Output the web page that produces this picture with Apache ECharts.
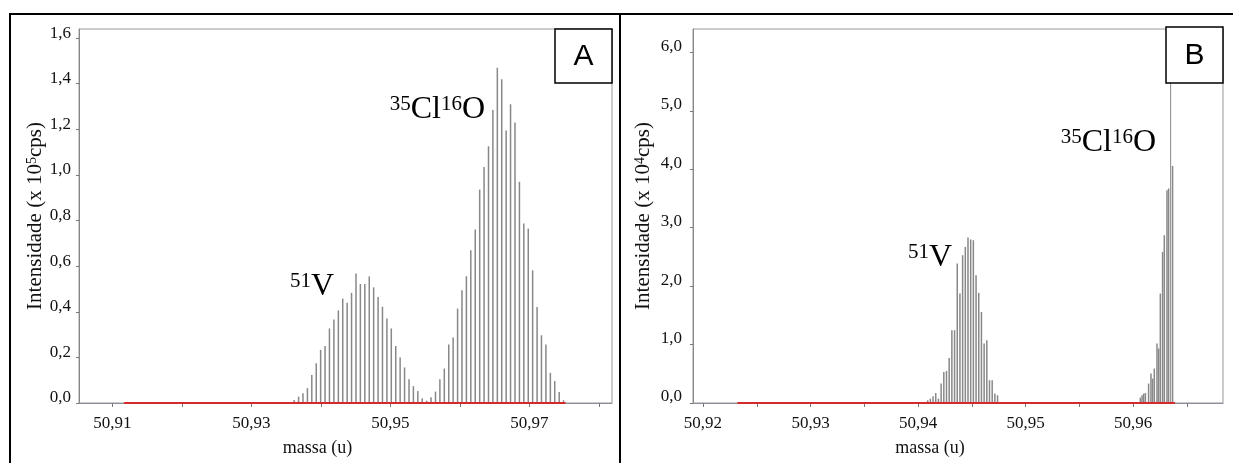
<!DOCTYPE html>
<html><head><meta charset="utf-8">
<script src="https://cdn.jsdelivr.net/npm/echarts@6/dist/echarts.min.js"></script>
<style>html,body{margin:0;padding:0;background:#fff}#c{width:1233px;height:463px}</style>
</head><body><div id="c"></div>
<script>
// ---- Panel A data (mass in u, intensity in 10^5 cps) ----
const massA = [50.93616,50.93680,50.93743,50.93807,50.93870,50.93934,50.93997,50.94061,50.94124,50.94188,
  50.94252,50.94315,50.94379,50.94442,50.94506,50.94569,50.94633,50.94697,50.94760,50.94824,
  50.94887,50.94951,50.95014,50.95078,50.95141,50.95205,50.95269,50.95332,50.95396,50.95459,
  50.95523,50.95586,50.95650,50.95713,50.95777,50.95841,50.95904,50.95968,50.96031,50.96095,
  50.96158,50.96222,50.96286,50.96349,50.96413,50.96476,50.96540,50.96603,50.96667,50.96730,
  50.96794,50.96858,50.96921,50.96985,50.97048,50.97112,50.97175,50.97239,50.97303,50.97366,
  50.97430,50.97493];
const intensA = [0.013,0.028,0.043,0.065,0.123,0.174,0.233,0.250,0.327,0.366,
  0.406,0.458,0.440,0.483,0.568,0.522,0.522,0.555,0.507,0.465,
  0.422,0.370,0.327,0.250,0.200,0.156,0.104,0.074,0.053,0.021,
  0.010,0.025,0.050,0.104,0.151,0.257,0.287,0.414,0.494,0.556,
  0.670,0.761,0.936,1.035,1.126,1.285,1.470,1.420,1.195,1.310,
  1.230,0.970,0.787,0.765,0.582,0.421,0.297,0.257,0.132,0.096,
  0.048,0.012];
const baselineA = [50.9117, 50.9752];
const xTicksA = [50.91,50.92,50.93,50.94,50.95,50.96,50.97,50.98];
const xLabelsA = [50.91,50.93,50.95,50.97];
const yTicksA = [0,0.2,0.4,0.6,0.8,1.0,1.2,1.4,1.6];

// ---- Panel B data (mass in u, intensity in 10^4 cps) ----
const massB = [50.94090,50.94115,50.94140,50.94165,50.94190,50.94215,50.94240,50.94265,50.94290,50.94315,
  50.94340,50.94365,50.94390,50.94415,50.94440,50.94465,50.94490,50.94515,50.94540,50.94565,
  50.94590,50.94615,50.94640,50.94665,50.94690,50.94715,50.94740,
  50.96068,50.96084,50.96099,50.96115,50.96145,50.96167,50.96182,50.96198,50.96223,50.96238,
  50.96254,50.96275,50.96291,50.96316,50.96331,50.96368];
const intensB = [0.046,0.075,0.115,0.171,0.075,0.332,0.531,0.548,0.771,1.245,
  1.245,2.387,1.873,2.529,2.671,2.832,2.798,2.786,2.187,1.884,
  1.558,1.017,1.074,0.389,0.389,0.161,0.132,
  0.092,0.132,0.161,0.171,0.332,0.503,0.418,0.589,1.017,0.932,
  1.873,2.586,2.872,3.642,3.671,4.058];
const baselineB = [50.9232, 50.9639];
const markB = 50.9635;
const xTicksB = [50.92,50.925,50.93,50.935,50.94,50.945,50.95,50.955,50.96,50.965];
const xLabelsB = [50.92,50.93,50.94,50.95,50.96];
const yTicksB = [0,1,2,3,4,5,6];

const serif = 'Liberation Serif';
const pair = (xs, ys) => xs.map((x, i) => [x, ys[i]]);
const fmt = d => v => v.toFixed(d).replace('.', ',');

function xAxis(gi, min, max, ticks, labels) {
  return {
    type: 'value', gridIndex: gi, min, max,
    name: 'massa (u)', nameLocation: 'middle', nameGap: 36,
    nameTextStyle: { fontFamily: serif, fontSize: 18, color: '#111', padding: [0, 56, 0, 0] },
    axisLine: { lineStyle: { color: '#8a8f99', width: 1 } },
    axisTick: { customValues: ticks, length: 4, lineStyle: { color: '#777' } },
    axisLabel: { customValues: labels, formatter: fmt(2), fontFamily: serif, fontSize: 17, color: '#111', margin: 12 },
    splitLine: { show: false }
  };
}
function yAxis(gi, max, ticks, exp, gap, margin, lh) {
  return {
    type: 'value', gridIndex: gi, min: 0, max,
    name: 'Intensidade (x 10{sup|' + exp + '}cps)', nameLocation: 'middle', nameGap: gap,
    nameTextStyle: { fontFamily: serif, fontSize: 21, color: '#111',
      rich: { sup: { fontFamily: serif, fontSize: 14, verticalAlign: 'top', lineHeight: 21 } } },
    axisLine: { show: true, lineStyle: { color: '#888', width: 1 } },
    axisTick: { show: true, customValues: ticks, length: 3, lineStyle: { color: '#777' } },
    axisLabel: { customValues: ticks, formatter: fmt(1), fontFamily: serif, fontSize: 17, color: '#111', margin,
      verticalAlign: 'bottom', lineHeight: lh },
    splitLine: { show: false }
  };
}
function annot(x, y, sup1, main1, sup2, main2) {
  return {
    type: 'text', x, y, z: 100,
    style: {
      text: '{s|' + sup1 + '}{b|' + main1 + '}' + (sup2 ? '{s|' + sup2 + '}{b|' + main2 + '}' : ''),
      align: 'right', verticalAlign: 'bottom', fill: '#000',
      rich: {
        b: { fontFamily: serif, fontSize: 32, lineHeight: 32, fill: '#000' },
        s: { fontFamily: serif, fontSize: 21, lineHeight: 21, verticalAlign: 'top', fill: '#000' }
      }
    }
  };
}
function letterBox(x, y, w, h, letter) {
  return [
    { type: 'rect', shape: { x, y, width: w, height: h }, z: 99,
      style: { fill: '#fff', stroke: '#000', lineWidth: 1.5 } },
    { type: 'text', x: x + w / 2, y: y + h / 2 + 1, z: 100,
      style: { text: letter, align: 'center', verticalAlign: 'middle', fontFamily: 'Liberation Sans', fontSize: 30, fill: '#000' } }
  ];
}

const chart = echarts.init(document.getElementById('c'), null, { renderer: 'canvas' });
chart.setOption({
  backgroundColor: '#fff',
  animation: false,
  grid: [
    { left: 79, right: 621, top: 29, bottom: 60, show: true, borderColor: '#999', borderWidth: 1, containLabel: false },
    { left: 693, right: 10, top: 29, bottom: 60, show: true, borderColor: '#999', borderWidth: 1, containLabel: false }
  ],
  xAxis: [
    xAxis(0, 50.9052, 50.9819, xTicksA, xLabelsA),
    xAxis(1, 50.91907, 50.96837, xTicksB, xLabelsB)
  ],
  yAxis: [
    yAxis(0, 1.64, yTicksA, '5', 32, 8, 10),
    yAxis(1, 6.4, yTicksB, '4', 39, 11, 12)
  ],
  series: [
    { type: 'bar', xAxisIndex: 0, yAxisIndex: 0, barWidth: 1.5, data: pair(massA, intensA),
      itemStyle: { color: '#888' }, z: 2 },
    { type: 'line', xAxisIndex: 0, yAxisIndex: 0, symbol: 'none', data: [[baselineA[0], 0], [baselineA[1], 0]],
      lineStyle: { color: '#d42a2a', width: 2 }, z: 3 },
    { type: 'bar', xAxisIndex: 1, yAxisIndex: 1, barWidth: 1.5, data: pair(massB, intensB),
      itemStyle: { color: '#888' }, z: 2 },
    { type: 'line', xAxisIndex: 1, yAxisIndex: 1, symbol: 'none', data: [[markB, 0], [markB, 6.4]],
      lineStyle: { color: '#888', width: 1 }, z: 2 },
    { type: 'line', xAxisIndex: 1, yAxisIndex: 1, symbol: 'none', data: [[baselineB[0], 0], [baselineB[1], 0]],
      lineStyle: { color: '#d42a2a', width: 2 }, z: 3 }
  ],
  graphic: [
    { type: 'line', shape: { x1: 9, y1: 14, x2: 1233, y2: 14 }, style: { stroke: '#000', lineWidth: 2 } },
    { type: 'line', shape: { x1: 10, y1: 13, x2: 10, y2: 463 }, style: { stroke: '#000', lineWidth: 2 } },
    { type: 'line', shape: { x1: 620, y1: 13, x2: 620, y2: 463 }, style: { stroke: '#000', lineWidth: 2 } },
    ...letterBox(555, 29, 57, 54, 'A'),
    ...letterBox(1166, 27, 57, 56, 'B'),
    annot(485, 126, '35', 'Cl', '16', 'O'),
    annot(334, 303, '51', 'V'),
    annot(1156, 159, '35', 'Cl', '16', 'O'),
    annot(952, 274, '51', 'V')
  ]
});
</script></body></html>
